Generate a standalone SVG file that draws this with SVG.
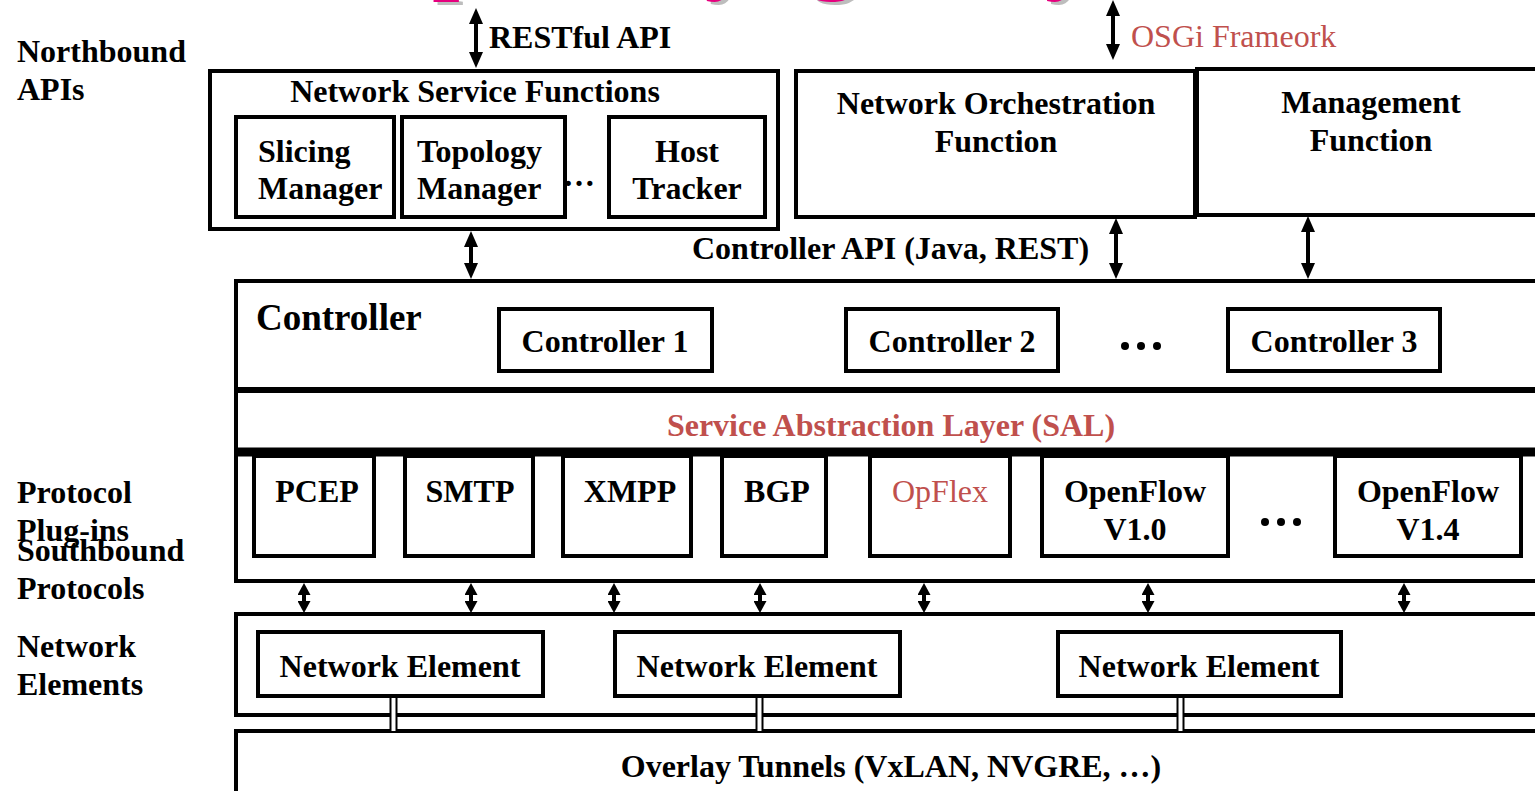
<svg xmlns="http://www.w3.org/2000/svg" width="1535" height="791" viewBox="0 0 1535 791">
  <style>
    .t { font-family: "Liberation Serif", "Times New Roman", serif; font-weight: bold; font-size: 32px; fill: #000; }
    .c { text-anchor: middle; }
    .red { fill: #c0504d; }
    .reg { font-weight: normal; }
    .box { fill: #fff; stroke: #000; stroke-width: 4; }
    .arrow { stroke: #000; stroke-width: 4; fill: none; marker-start: url(#head); marker-end: url(#head); }
    .small { stroke: #000; stroke-width: 4; fill: none; marker-start: url(#shead); marker-end: url(#shead); }
    .title { font-family: "Liberation Serif", "Times New Roman", serif; font-weight: bold; font-size: 98px; }
  </style>
  <defs>
    <marker id="head" markerUnits="userSpaceOnUse" viewBox="0 0 16 14" markerWidth="16" markerHeight="14" refX="0" refY="7" orient="auto-start-reverse">
      <path d="M0,0 L16,7 L0,14 z" fill="#000"/>
    </marker>
    <marker id="shead" markerUnits="userSpaceOnUse" viewBox="0 0 12 13" markerWidth="12" markerHeight="13" refX="0" refY="6.5" orient="auto-start-reverse">
      <path d="M0,0 L12,6.5 L0,13 z" fill="#000"/>
    </marker>
  </defs>

  <rect width="1535" height="791" fill="#fff"/>

  <!-- slide title, mostly above the top edge -->
  <g id="title">
    <text class="title" x="360" y="-16" fill="#bdbdbd">OpenDaylight Hybrid</text>
    <text class="title" x="356" y="-19" fill="#e6007e">OpenDaylight Hybrid</text>
  </g>

  <!-- row labels -->
  <g id="labels">
    <text class="t" x="17" y="62">Northbound</text>
    <text class="t" x="17" y="100">APIs</text>
    <text class="t" x="17" y="503">Protocol</text>
    <text class="t" x="17" y="541">Plug-ins</text>
    <text class="t" x="17" y="561">Southbound</text>
    <text class="t" x="17" y="599">Protocols</text>
    <text class="t" x="17" y="657">Network</text>
    <text class="t" x="17" y="695">Elements</text>
  </g>

  <!-- northbound applications -->
  <g id="network-service-functions">
    <rect class="box" x="210" y="71" width="568" height="158"/>
    <text class="t c" x="475" y="102">Network Service Functions</text>
  </g>
  <g id="slicing-manager">
    <rect class="box" x="236" y="117" width="158" height="100"/>
    <text class="t" x="258" y="162">Slicing</text>
    <text class="t" x="258" y="199">Manager</text>
  </g>
  <g id="topology-manager">
    <rect class="box" x="402" y="117" width="163" height="100"/>
    <text class="t" x="417" y="162">Topology</text>
    <text class="t" x="417" y="199">Manager</text>
  </g>
  <text class="t" x="563" y="186">…</text>
  <g id="host-tracker">
    <rect class="box" x="609" y="117" width="156" height="100"/>
    <text class="t c" x="687" y="162">Host</text>
    <text class="t c" x="687" y="199">Tracker</text>
  </g>
  <g id="orchestration">
    <rect class="box" x="796" y="71" width="399" height="146"/>
    <text class="t c" x="996" y="114">Network Orchestration</text>
    <text class="t c" x="996" y="152">Function</text>
  </g>
  <g id="management">
    <rect class="box" x="1197" y="69" width="348" height="146"/>
    <text class="t c" x="1371" y="113">Management</text>
    <text class="t c" x="1371" y="151">Function</text>
  </g>

  <text class="t" x="489" y="48">RESTful API</text>
  <text class="t reg red" x="1131" y="47">OSGi Frameork</text>
  <text class="t" x="692" y="259">Controller API (Java, REST)</text>

  <!-- controller layer -->
  <g id="controller">
    <rect class="box" x="236" y="281" width="1309" height="108"/>
    <text class="t" x="256" y="330" style="font-size:37px">Controller</text>
  </g>
  <g id="controller-1">
    <rect class="box" x="499" y="309" width="213" height="62"/>
    <text class="t c" x="605" y="352">Controller 1</text>
  </g>
  <g id="controller-2">
    <rect class="box" x="846" y="309" width="212" height="62"/>
    <text class="t c" x="952" y="352">Controller 2</text>
  </g>
  <g id="controller-dots" fill="#000">
    <circle cx="1125" cy="346" r="4"/>
    <circle cx="1141" cy="346" r="4"/>
    <circle cx="1157" cy="346" r="4"/>
  </g>
  <g id="controller-3">
    <rect class="box" x="1228" y="309" width="212" height="62"/>
    <text class="t c" x="1334" y="352">Controller 3</text>
  </g>

  <!-- service abstraction layer -->
  <g id="sal">
    <rect class="box" x="236" y="391" width="1309" height="62"/>
    <text class="t c red" x="891" y="436">Service Abstraction Layer (SAL)</text>
  </g>

  <!-- protocol plug-ins -->
  <g id="plugins">
    <rect class="box" x="236" y="454" width="1309" height="127"/>
    <line x1="234" y1="452" x2="1535" y2="452" stroke="#000" stroke-width="9"/>
  </g>
  <g id="pcep">
    <rect class="box" x="254" y="456" width="120" height="100"/>
    <text class="t c" x="317" y="502">PCEP</text>
  </g>
  <g id="smtp">
    <rect class="box" x="405" y="456" width="128" height="100"/>
    <text class="t c" x="470" y="502">SMTP</text>
  </g>
  <g id="xmpp">
    <rect class="box" x="563" y="456" width="128" height="100"/>
    <text class="t c" x="630" y="502">XMPP</text>
  </g>
  <g id="bgp">
    <rect class="box" x="722" y="456" width="104" height="100"/>
    <text class="t c" x="777" y="502">BGP</text>
  </g>
  <g id="opflex">
    <rect class="box" x="870" y="456" width="140" height="100"/>
    <text class="t c reg red" x="940" y="502">OpFlex</text>
  </g>
  <g id="openflow-10">
    <rect class="box" x="1042" y="456" width="186" height="100"/>
    <text class="t c" x="1135" y="502">OpenFlow</text>
    <text class="t c" x="1135" y="540">V1.0</text>
  </g>
  <g id="plugin-dots" fill="#000">
    <circle cx="1265" cy="522" r="4"/>
    <circle cx="1281" cy="522" r="4"/>
    <circle cx="1297" cy="522" r="4"/>
  </g>
  <g id="openflow-14">
    <rect class="box" x="1335" y="456" width="186" height="100"/>
    <text class="t c" x="1428" y="502">OpenFlow</text>
    <text class="t c" x="1428" y="540">V1.4</text>
  </g>

  <!-- network elements -->
  <g id="network-elements">
    <rect class="box" x="236" y="614" width="1309" height="101"/>
  </g>
  <g id="ne-1">
    <rect class="box" x="258" y="632" width="285" height="64"/>
    <text class="t c" x="400" y="677">Network Element</text>
  </g>
  <g id="ne-2">
    <rect class="box" x="615" y="632" width="285" height="64"/>
    <text class="t c" x="757" y="677">Network Element</text>
  </g>
  <g id="ne-3">
    <rect class="box" x="1058" y="632" width="283" height="64"/>
    <text class="t c" x="1199" y="677">Network Element</text>
  </g>

  <!-- overlay tunnels -->
  <g id="overlay">
    <rect class="box" x="236" y="731" width="1309" height="70"/>
    <text class="t c" x="891" y="777">Overlay Tunnels (VxLAN, NVGRE, …)</text>
  </g>

  <!-- connectors -->
  <g id="connectors">
    <line class="arrow" x1="476" y1="24" x2="476" y2="52"/>
    <line class="arrow" x1="1113" y1="16" x2="1113" y2="44"/>
    <line class="arrow" x1="471" y1="247" x2="471" y2="263"/>
    <line class="arrow" x1="1116" y1="234" x2="1116" y2="263"/>
    <line class="arrow" x1="1308" y1="232" x2="1308" y2="263"/>

    <line class="small" x1="304" y1="595" x2="304" y2="601"/>
    <line class="small" x1="471" y1="595" x2="471" y2="601"/>
    <line class="small" x1="614" y1="595" x2="614" y2="601"/>
    <line class="small" x1="760" y1="595" x2="760" y2="601"/>
    <line class="small" x1="924" y1="595" x2="924" y2="601"/>
    <line class="small" x1="1148" y1="595" x2="1148" y2="601"/>
    <line class="small" x1="1404" y1="595" x2="1404" y2="601"/>

    <!-- double-line tunnel links -->
    <g stroke="#000" stroke-width="2">
      <rect x="391" y="698" width="5" height="33" fill="#fff" stroke="none"/>
      <line x1="390.5" y1="698" x2="390.5" y2="731"/>
      <line x1="396.5" y1="698" x2="396.5" y2="731"/>
      <rect x="757" y="698" width="5" height="33" fill="#fff" stroke="none"/>
      <line x1="756.5" y1="698" x2="756.5" y2="731"/>
      <line x1="762.5" y1="698" x2="762.5" y2="731"/>
      <rect x="1178" y="698" width="5" height="33" fill="#fff" stroke="none"/>
      <line x1="1177.5" y1="698" x2="1177.5" y2="731"/>
      <line x1="1183.5" y1="698" x2="1183.5" y2="731"/>
    </g>
  </g>
</svg>
